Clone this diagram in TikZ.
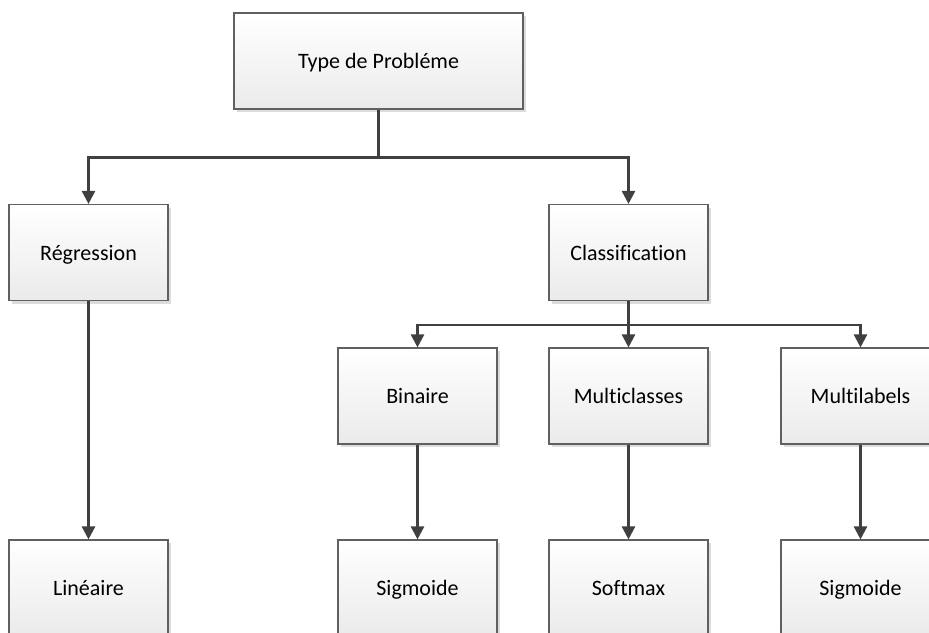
\documentclass[tikz,border=0pt]{standalone}
\usepackage{fontspec}
\setmainfont[Ligatures=NoCommon]{Carlito}
\usetikzlibrary{arrows.meta,shadows}
\definecolor{linec}{HTML}{404040}
\definecolor{borderc}{HTML}{606060}
\definecolor{shadc}{HTML}{DCDCDC}
\tikzset{
  box/.style={draw=borderc, line width=1.1pt, top color=white, bottom color=black!8,
    minimum width=159pt, minimum height=96pt, inner sep=0pt,
    text height=16pt, text depth=1pt,
    font=\fontsize{22}{26}\selectfont, text=black,
    drop shadow={shadow xshift=3pt, shadow yshift=-3pt, fill=shadc, opacity=1}},
  conn/.style={draw=linec, line width=2.4pt, -{Triangle[length=13pt,width=13pt]}},
  plain/.style={draw=linec, line width=2.4pt}
}
\begin{document}
\begin{tikzpicture}[x=1pt,y=-1pt]
\useasboundingbox (0,0) rectangle (929,632);
\clip (0,0) rectangle (929,632);
\node[box, minimum width=289pt] (top) at (378.5,61) {Type de Probléme};
\node[box] (reg) at (88.5,252.5) {Régression};
\node[box] (cls) at (628.5,252.5) {Classification};
\node[box] (bin) at (417.5,396) {Binaire};
\node[box] (mc) at (628.5,396) {Multiclasses};
\node[box] (ml) at (860.5,396) {Multilabels};
\node[box] (lin) at (88.5,588) {Linéaire};
\node[box] (sig1) at (417.5,588) {Sigmoide};
\node[box] (soft) at (628.5,588) {Softmax};
\node[box] (sig2) at (860.5,588) {Sigmoide};
\coordinate (j1) at ([yshift=-48pt]top.south);
\coordinate (j2) at ([yshift=-24pt]cls.south);
\draw[plain] (top.south) -- (j1);
\draw[conn] (j1) -| (reg.north);
\draw[conn] (j1) -| (cls.north);
\draw[plain] (cls.south) -- (j2);
\draw[conn] (j2) -| (bin.north);
\draw[conn] (j2) -- (mc.north);
\draw[conn] (j2) -| (ml.north);
\draw[conn] (reg.south) -- (lin.north);
\draw[conn] (bin.south) -- (sig1.north);
\draw[conn] (mc.south) -- (soft.north);
\draw[conn] (ml.south) -- (sig2.north);
\end{tikzpicture}
\end{document}
